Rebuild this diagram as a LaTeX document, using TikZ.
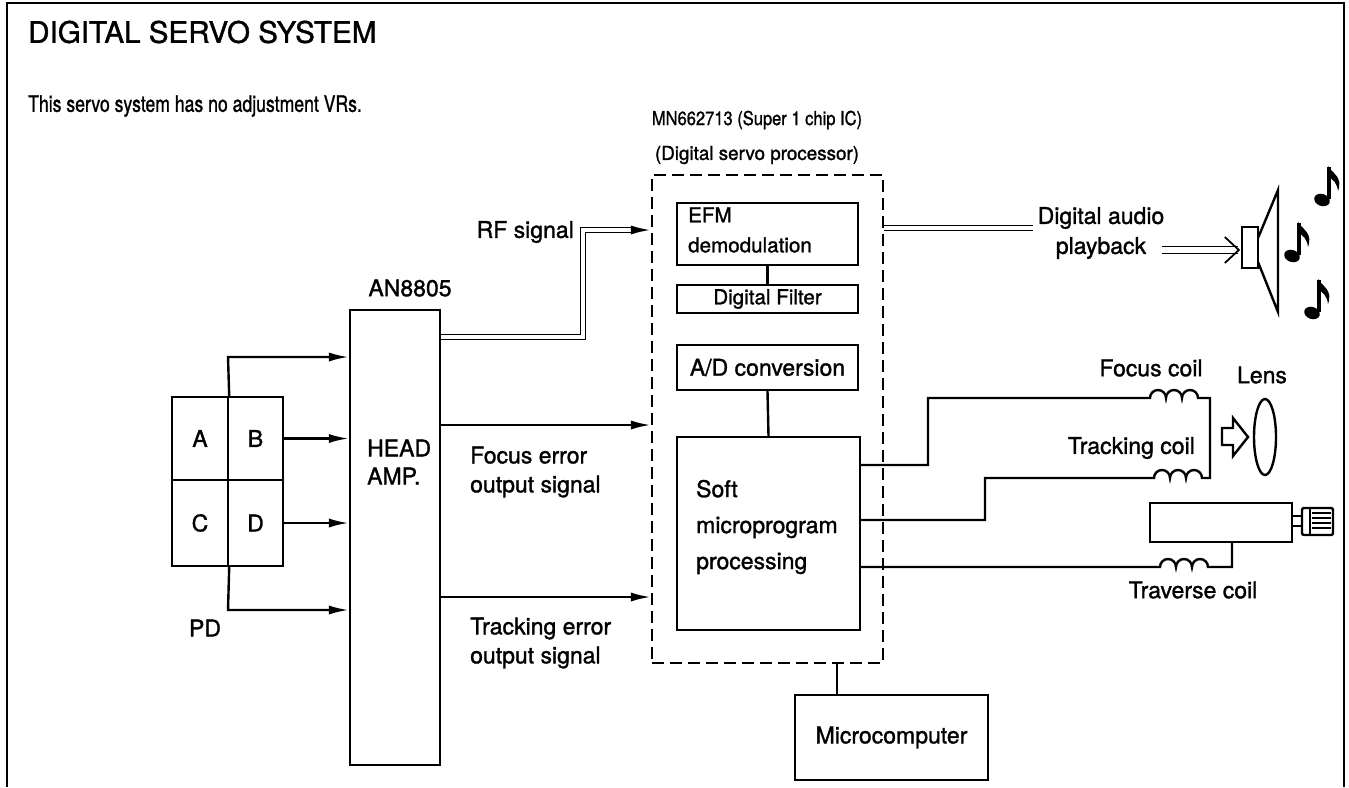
\documentclass[tikz,border=0pt]{standalone}
\usepackage{fontspec}
\usepackage{graphicx}
\setmainfont{TeX Gyre Heros}[RawFeature={embolden=1.3}]
\usetikzlibrary{arrows.meta,fit,positioning}

\begin{document}
\begin{tikzpicture}[x=0.5pt, y=-0.5pt, line width=1.2pt,
      blk/.style={draw, inner sep=0pt},
      lbl/.style={font=\fontsize{11.5}{14}\selectfont, inner sep=0pt, align=left},
      small/.style={font=\fontsize{10.3}{15}\selectfont, inner sep=0pt, align=left},
      tip/.style={-{Latex[length=10pt,width=4.6pt]}},
      twin/.style={double, double distance=1.6pt, line width=0.8pt},
      tune/.pic={
         \fill[rotate=-20] (0,0) ellipse (8 and 6);
         \draw[line width=2pt] (7,-1) -- (7,-33);
         \fill (6,-34) .. controls (11,-26) and (21,-23) .. (16,-9)
            .. controls (15,-17) and (11,-21) .. (6,-23) -- cycle;}]

   \useasboundingbox (0,0) rectangle (1349,787);
   \draw (7,787) -- (7,3) -- (1344,3) -- (1344,787);

   \node[anchor=west, inner sep=0pt, font=\fontsize{14.8}{17}\selectfont] (title) at (27,32) {DIGITAL SERVO SYSTEM};
   \node[anchor=west, inner sep=0pt, font=\fontsize{11.3}{13}\selectfont] (intro) at (27,106) {\scalebox{0.78}[1]{This servo system has no adjustment VRs.}};

   % photo detector
   \node[blk, fit={(172,397) (228,480)}] (pa) {};
   \node[blk, fit={(228,397) (283,480)}] (pb) {};
   \node[blk, fit={(172,480) (228,566)}] (pc) {};
   \node[blk, fit={(228,480) (283,566)}] (pd) {};
   \node[lbl] (palbl) at (pa) {A};
   \node[lbl] (pblbl) at (pb) {B};
   \node[lbl] (pclbl) at (pc) {C};
   \node[lbl] (pdlbl2) at (pd) {D};
   \node[lbl] (pdlbl) at (205,628) {PD};

   % head amplifier
   \node[blk, fit={(350,310) (440,765)}] (amp) {};
   \node[lbl, anchor=west] (amplbl) at (366,462) {HEAD\\AMP.};
   \node[lbl] (ampic) at (410,288) {AN8805};

   \coordinate (pdt) at (228,357);
   \coordinate (pdb) at (228,610);
   \draw[tip] (pa.north east) -- (pdt) -- (amp.west |- pdt);
   \draw[tip] (pb.east) -- (amp.west |- pb.east);
   \draw[tip] (pd.east) -- (amp.west |- pd.east);
   \draw[tip] (pc.south east) -- (pdb) -- (amp.west |- pdb);

   % servo processor
   \node[draw, dash pattern=on 6pt off 3pt, inner sep=0pt, fit={(652,175) (883,663)}] (dsp) {};
   \node[font=\fontsize{9.6}{11}\selectfont] (chip) at (757,120) {\scalebox{0.86}[1]{MN662713 (Super 1 chip IC)}};
   \node[font=\fontsize{9.6}{11}\selectfont] (role) at (757,155) {\scalebox{0.98}[1]{(Digital servo processor)}};
   \node[blk, fit={(677,203) (858,265)}] (efm) {};
   \node[small, anchor=west] (efmlbl) at (687,230) {EFM\\demodulation};
   \node[blk, fit={(677,285) (858,313)}] (filt) {};
   \node[small] (filtlbl) at (filt) {Digital Filter};
   \node[blk, fit={(677,345) (858,390)}] (adc) {};
   \node[lbl] (adclbl) at (adc) {A/D conversion};
   \node[blk, fit={(677,437) (860,630)}] (soft) {};
   \node[anchor=west, inner sep=0pt, align=left, font=\fontsize{11.5}{18}\selectfont] (softlbl) at (695,527) {Soft\\microprogram\\processing};
   \draw (efm.south) -- (filt.north);
   \draw (adc.south) -- (soft.north);

   \node[blk, fit={(795,695) (988,780)}] (mcu) {};
   \node[lbl] (mculbl) at (mcu) {Microcomputer};
   \coordinate (bus) at (837,680);
   \draw (dsp.south -| bus) -- (mcu.north -| bus);

   % signals into the processor
   \coordinate (rfa) at (583,337);
   \coordinate (rfb) at (583,230);
   \coordinate (rfc) at (634,230);
   \draw[twin] (amp.east |- rfa) -- (rfa) -- (rfb) -- (rfc);
   \draw[tip] ([xshift=-1pt]rfc) -- (dsp.west |- rfc);
   \node[lbl, anchor=east] (rflbl) at (575,232) {RF signal};

   \coordinate (fe) at (500,425);
   \coordinate (te) at (500,597);
   \draw[tip] (amp.east |- fe) -- (dsp.west |- fe);
   \draw[tip] (amp.east |- te) -- (dsp.west |- te);
   \node[lbl, anchor=west, font=\fontsize{11.5}{14.5}\selectfont] (felbl) at (469,472) {Focus error\\output signal};
   \node[lbl, anchor=west, font=\fontsize{11.5}{14.5}\selectfont] (telbl) at (469,643) {Tracking error\\output signal};

   % audio out
   \coordinate (da) at (1033,228);
   \draw[twin] (dsp.east |- da) -- (da);
   \node[lbl, align=center, font=\fontsize{11.5}{15}\selectfont] (dalbl) at (1101,233) {Digital audio\\playback};
   \node[blk, fit={(1242,227) (1258,268)}] (spk) {};
   \coordinate (pb0) at (1162,250);
   \draw[double, double distance=2.6pt, line width=0.7pt, shorten >=1.5pt] (pb0) -- (spk.west |- pb0);
   \draw[line width=0.9pt] ([xshift=-8pt,yshift=6.5pt]spk.west |- pb0) -- ([xshift=-1pt]spk.west |- pb0)
      -- ([xshift=-8pt,yshift=-6.5pt]spk.west |- pb0);
   \draw (1258,238) -- (1278,190) -- (1278,312) -- (1258,262);
   \pic at (1322,200) {tune};
   \pic at (1292,256) {tune};
   \pic at (1312,313) {tune};

   % focus and tracking coils
   \coordinate (f0) at (928,465);
   \coordinate (f1) at (928,398);
   \coordinate (fc) at (1150,398);
   \coordinate (fr) at (1210,398);
   \coordinate (fr2) at (1210,478);
   \coordinate (tc) at (1202,478);
   \coordinate (t1) at (985,478);
   \coordinate (t0) at (985,520);
   \draw (soft.east |- f0) -- (f0) -- (f1) -- (fc)
      arc (180:360:8) arc (180:360:8) arc (180:360:8) -- (fr) -- (fr2) -- (tc)
      arc (360:180:8) arc (360:180:8) arc (360:180:8) -- (t1) -- (t0) -- (soft.east |- t0);
   \node[lbl] (fclbl) at (1151,368) {Focus coil};
   \node[lbl, anchor=east] (tclbl) at (1196,448) {Tracking coil};

   % lens
   \draw (1222,428) -- (1233,428) -- (1233,418) -- (1248,437) -- (1233,456) -- (1233,445) -- (1222,445) -- cycle;
   \draw (1265,437) ellipse (11 and 38);
   \node[lbl] (lenslbl) at (1262,375) {Lens};

   % traverse motor
   \node[blk, fit={(1150,503) (1292,542)}] (motor) {};
   \draw (1292,516) rectangle (1302,526);
   \draw[rounded corners=1pt] (1302,508) rectangle (1333,535);
   \draw (1310,508) -- (1310,535);
   \foreach \y in {513,518,...,531}
      \draw[line width=0.6pt] (1312,\y) -- (1331,\y);
   \coordinate (tv) at (1160,567);
   \coordinate (tr) at (1232,567);
   \draw (soft.east |- tv) -- (tv) arc (180:360:8) arc (180:360:8) arc (180:360:8) -- (tr) -- (motor.south -| tr);
   \node[lbl] (tvlbl) at (1193,590) {Traverse coil};
\end{tikzpicture}
\end{document}
